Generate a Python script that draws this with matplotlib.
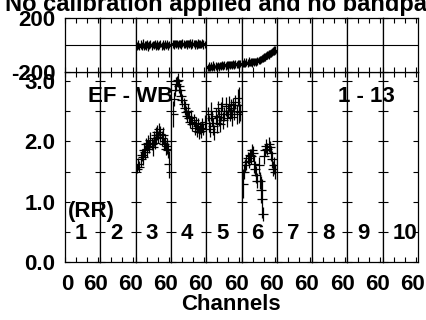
import matplotlib
matplotlib.use('Agg')
import matplotlib.pyplot as plt
from matplotlib.ticker import FixedLocator
from matplotlib.transforms import ScaledTranslation

plt.rcParams['font.family'] = ['Liberation Sans', 'DejaVu Sans']
plt.rcParams['font.weight'] = 'bold'

# ---------------- data ----------------
band_labels = ['1', '2', '3', '4', '5', '6', '7', '8', '9', '10']
chan = [3, 5, 7, 9, 11, 13, 15, 17, 19, 21, 23, 25, 27, 29, 31,
        33, 35, 37, 39, 41, 43, 45, 47, 49, 51, 53, 55, 57, 59, 61]

amp_if3 = [1.55, 1.62, 1.58, 1.70, 1.78, 1.74, 1.85, 1.82, 1.95, 1.88,
           1.98, 1.92, 2.02, 1.96, 1.90, 2.05, 1.98, 2.10, 2.15, 2.08,
           2.20, 2.12, 2.05, 2.10, 1.95, 2.00, 1.88, 1.92, 1.85, 1.62]
err_if3 = [0.08, 0.10, 0.09, 0.12, 0.10, 0.14, 0.11, 0.12, 0.10, 0.14,
           0.12, 0.11, 0.13, 0.10, 0.14, 0.12, 0.11, 0.14, 0.12, 0.10,
           0.11, 0.13, 0.12, 0.14, 0.10, 0.12, 0.11, 0.13, 0.12, 0.22]
amp_if4 = [2.45, 2.70, 2.85, 2.95, 3.00, 3.02, 2.92, 2.85, 2.75, 2.68,
           2.62, 2.55, 2.48, 2.42, 2.50, 2.38, 2.32, 2.40, 2.28, 2.35,
           2.22, 2.30, 2.18, 2.26, 2.15, 2.22, 2.18, 2.28, 2.20, 2.32]
err_if4 = [0.22, 0.12, 0.10, 0.12, 0.09, 0.12, 0.11, 0.10, 0.12, 0.11,
           0.10, 0.12, 0.11, 0.10, 0.12, 0.11, 0.10, 0.12, 0.11, 0.10,
           0.12, 0.11, 0.10, 0.12, 0.11, 0.10, 0.12, 0.11, 0.10, 0.12]
amp_if5 = [2.45, 2.30, 2.20, 2.50, 2.38, 2.25, 2.15, 2.42, 2.30, 2.55,
           2.40, 2.28, 2.50, 2.62, 2.35, 2.45, 2.58, 2.38, 2.50, 2.62,
           2.45, 2.55, 2.40, 2.60, 2.50, 2.65, 2.45, 2.72, 2.60, 2.48]
err_if5 = [0.12, 0.14, 0.12, 0.16, 0.12, 0.14, 0.12, 0.14, 0.16, 0.12,
           0.14, 0.12, 0.16, 0.12, 0.14, 0.12, 0.16, 0.14, 0.12, 0.14,
           0.12, 0.16, 0.14, 0.12, 0.14, 0.12, 0.16, 0.14, 0.30, 0.14]
amp_if6 = [1.30, 1.50, 1.60, 1.65, 1.72, 1.68, 1.78, 1.75, 1.85, 1.80,
           1.62, 1.55, 1.45, 1.35, 1.60, 1.35, 1.20, 1.05, 0.80, 1.75,
           1.85, 1.92, 1.88, 1.95, 1.90, 1.80, 1.70, 1.55, 1.60, 1.50]
err_if6 = [0.24, 0.12, 0.10, 0.12, 0.10, 0.12, 0.10, 0.12, 0.10, 0.12,
           0.14, 0.12, 0.14, 0.12, 0.14, 0.14, 0.22, 0.32, 0.12, 0.12,
           0.10, 0.12, 0.10, 0.12, 0.10, 0.12, 0.14, 0.12, 0.14, 0.12]

pha_if3 = [-8, 6, -12, 4, -6, 9, -10, 2, -5, 8, -11, 0, 7, -8, 3,
           -3, 8, -10, 5, -7, 2, 10, -5, 3, -9, 6, -2, 5, -7, 3]
pha_if4 = [9, 2, 13, 5, 10, 0, 12, 6, 3, 14, 8, 1, 11, 4, 12,
           6, 15, 2, 9, 12, 4, 10, 1, 13, 6, 9, 2, 12, 6, 4]
pha_if5 = [-168, -160, -170, -158, -166, -155, -163, -154, -162, -152, -160, -150, -158, -149, -156,
           -147, -155, -146, -152, -144, -151, -143, -149, -141, -148, -140, -146, -138, -145, -137]
pha_if6 = [-138, -128, -136, -126, -133, -124, -131, -123, -130, -122, -128, -120, -126, -118, -116,
           -110, -106, -100, -96, -90, -86, -80, -74, -70, -63, -58, -52, -46, -42, -36]
pha_err = [28, 32, 26, 30, 28, 33, 27, 29, 32, 28, 30, 26, 29, 32, 28,
           30, 27, 29, 32, 28, 30, 26, 29, 32, 28, 30, 27, 29, 32, 28]

amp_by_band = {2: (amp_if3, err_if3), 3: (amp_if4, err_if4),
               4: (amp_if5, err_if5), 5: (amp_if6, err_if6)}
pha_by_band = {2: pha_if3, 3: pha_if4, 4: pha_if5, 5: pha_if6}

# ---------------- layout ----------------
W, H = 427, 320
fig = plt.figure(figsize=(W / 100, H / 100), dpi=100)
left, right = 65 / W, 418 / W
bw = (right - left) / 10
bot_lo, top_lo = 1 - 262 / H, 1 - 72 / H
bot_hi, top_hi = 1 - 72 / H, 1 - 18 / H

FS = 16
for i in range(10):
    axb = fig.add_axes([left + i * bw, bot_lo, bw, top_lo - bot_lo])
    axt = fig.add_axes([left + i * bw, bot_hi, bw, top_hi - bot_hi])
    for ax in (axb, axt):
        ax.set_xlim(0, 64)
        ax.xaxis.set_major_locator(FixedLocator([0, 60]))
        ax.xaxis.set_minor_locator(FixedLocator([20, 40]))
        ax.tick_params(which='both', direction='in', top=True, right=True,
                       left=True, bottom=True, length=3.5, width=0.8,
                       labelsize=FS)
        for s in ax.spines.values():
            s.set_linewidth(0.9)
    axt.set_ylim(-200, 200)
    axt.yaxis.set_major_locator(FixedLocator([-200, 200]))
    axt.axhline(0, color='black', lw=0.8)
    axt.tick_params(labelbottom=False)
    axb.set_ylim(0, 3.15)
    axb.yaxis.set_major_locator(FixedLocator([0, 1, 2, 3]))
    axb.yaxis.set_minor_locator(FixedLocator([0.5, 1.5, 2.5]))
    axb.set_xticklabels(['0' if i == 0 else '', '60'])
    axb.tick_params(axis='x', pad=9)
    axb.tick_params(axis='y', pad=7)
    axt.tick_params(axis='y', pad=7)
    ticks = axb.xaxis.get_major_ticks()
    ticks[0].label1.set_transform(ticks[0].label1.get_transform()
                                  + ScaledTranslation(2 / 100, 0, fig.dpi_scale_trans))
    ticks[1].label1.set_transform(ticks[1].label1.get_transform()
                                  + ScaledTranslation(-3 / 100, 0, fig.dpi_scale_trans))
    if i == 0:
        axb.set_yticklabels(['0.0', '1.0', '2.0', '3.0'])
        axt.set_yticklabels(['-200', '200'])
    else:
        axb.tick_params(labelleft=False)
        axt.tick_params(labelleft=False)
    if i in amp_by_band:
        a, e = amp_by_band[i]
        axb.errorbar(chan, a, yerr=e, fmt='_', color='black', ms=7, mew=0.9,
                     elinewidth=0.9, capsize=0)
        axt.errorbar(chan, pha_by_band[i], yerr=pha_err, fmt='_', color='black',
                     ms=7, mew=0.9, elinewidth=0.9, capsize=0)
    axb.text(18, 0.48, band_labels[i], fontsize=FS, fontweight='bold',
             ha='left', va='center')

fig.text(5 / W, 1 - 11 / H, 'No calibration applied and no bandpass applied',
         fontsize=17, fontweight='bold', ha='left', va='baseline')
fig.text(88 / W, 1 - 97 / H, 'EF - WB', fontsize=FS, fontweight='bold',
         ha='left', va='center')
fig.text(338 / W, 1 - 97 / H, '1 - 13', fontsize=FS, fontweight='bold',
         ha='left', va='center')
fig.text(68 / W, 1 - 212 / H, '(RR)', fontsize=FS, fontweight='bold',
         ha='left', va='center')
fig.text(231 / W, 1 - 304 / H, 'Channels', fontsize=FS, fontweight='bold',
         ha='center', va='center')

fig.savefig('out.png', dpi=100)
